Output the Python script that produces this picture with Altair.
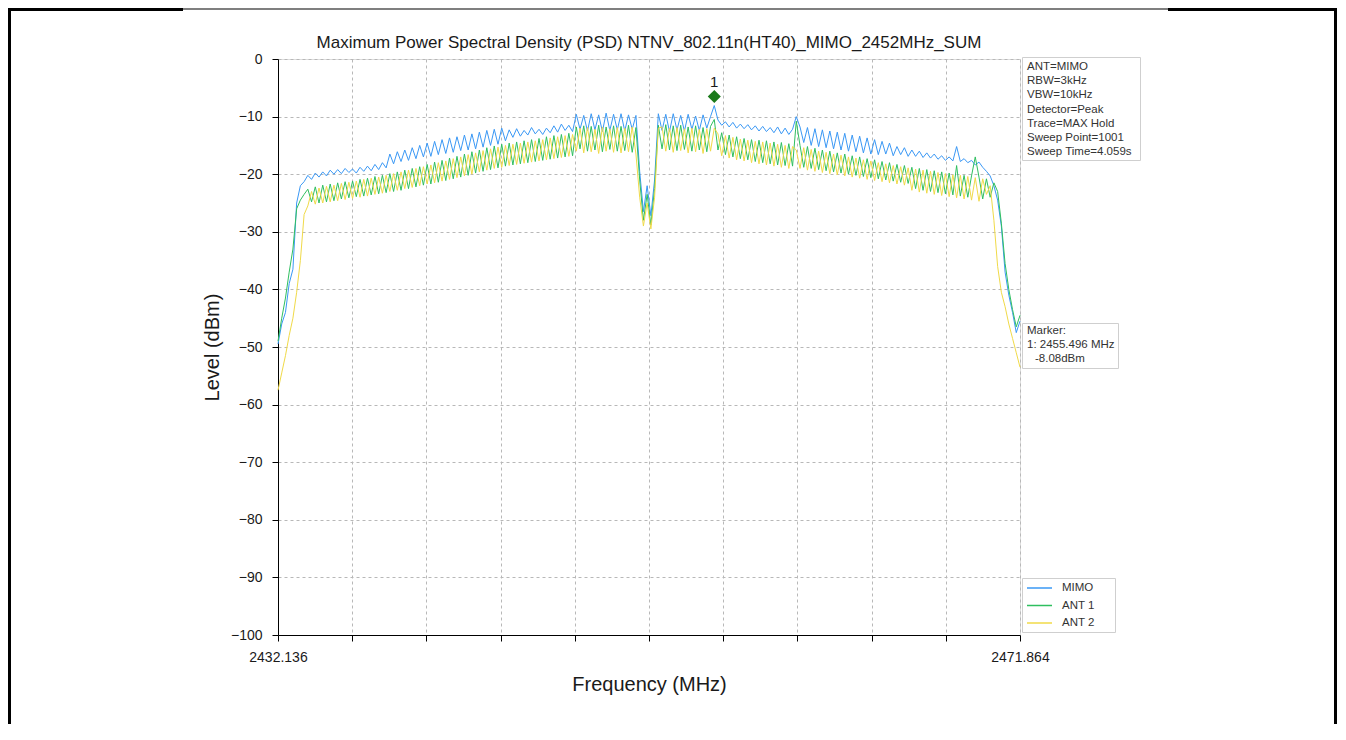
import altair as alt
import pandas as pd

# ---------------- data ----------------
TITLE = "Maximum Power Spectral Density (PSD) NTNV_802.11n(HT40)_MIMO_2452MHz_SUM"
F_START = 2432.136
F_STOP = 2471.864
N_POINTS = 200

series_names = ["MIMO", "ANT 1", "ANT 2"]
series_colors = ["#3a98f5", "#2fbf5f", "#f0da48"]

mimo = [
    -49.5, -46.0, -44.0, -39.0, -36.5, -25.0, -22.0, -21.3, -20.2, -20.9,
    -19.8, -20.5, -19.6, -20.3, -19.3, -20.0, -19.2, -19.9, -19.0, -19.7,
    -19.1, -19.8, -18.8, -19.5, -18.6, -19.4, -18.3, -19.2, -18.0, -18.9,
    -16.5, -18.2, -16.1, -17.8, -15.8, -17.6, -15.4, -17.3, -15.0, -17.0,
    -14.6, -16.9, -14.3, -16.6, -14.0, -16.4, -13.7, -16.2, -13.5, -15.9,
    -13.2, -15.8, -13.0, -15.6, -12.7, -15.3, -12.4, -15.0, -12.2, -14.8,
    -12.0, -14.2, -12.3, -13.6, -12.1, -13.4, -12.4, -13.2, -11.9, -13.0,
    -12.2, -13.1, -12.0, -12.8, -11.6, -12.7, -11.3, -12.4, -11.5, -12.6,
    -9.6, -12.2, -9.8, -12.5, -9.5, -12.3, -9.7, -12.6, -9.4, -12.4,
    -9.6, -12.3, -9.5, -12.5, -9.7, -12.2, -9.8, -19.5, -26.5, -22.0,
    -27.2, -21.0, -9.5, -12.4, -9.6, -12.6, -9.5, -12.3, -9.8, -12.5,
    -9.6, -12.2, -9.9, -12.4, -9.7, -12.0, -10.0, -8.08, -10.6, -11.5,
    -10.9, -11.8, -11.0, -12.0, -11.3, -12.1, -11.4, -12.3, -11.6, -12.5,
    -11.7, -12.6, -11.9, -12.8, -11.8, -13.0, -12.0, -13.1, -12.2, -10.0,
    -11.8, -14.5, -11.9, -15.0, -12.1, -15.2, -12.3, -15.4, -12.5, -15.6,
    -12.7, -15.8, -12.9, -16.0, -13.2, -16.1, -13.4, -16.3, -13.7, -16.5,
    -14.0, -16.6, -14.3, -16.5, -14.6, -16.8, -15.2, -16.6, -15.4, -16.9,
    -15.8, -16.9, -16.0, -17.1, -16.3, -17.2, -16.5, -17.4, -16.8, -17.6,
    -17.0, -17.7, -15.2, -17.8, -17.3, -18.0, -17.6, -18.4, -17.9, -18.8,
    -19.5, -20.3, -22.0, -24.5, -29.0, -37.0, -41.0, -44.0, -47.5, -45.5,
]

ant1 = [
    -49.0, -45.0, -41.5, -37.0, -33.0, -26.0, -24.5, -23.5, -22.6, -24.8,
    -22.2, -25.0, -21.9, -24.8, -21.7, -24.6, -21.5, -24.3, -21.3, -24.1,
    -21.2, -23.9, -20.9, -23.8, -20.7, -23.6, -20.4, -23.4, -20.2, -23.2,
    -19.9, -23.0, -19.6, -22.8, -19.3, -22.5, -19.0, -22.2, -18.7, -21.9,
    -18.3, -21.7, -17.9, -21.4, -17.6, -21.1, -17.2, -20.8, -16.9, -20.5,
    -16.5, -20.2, -16.1, -19.8, -15.8, -19.5, -15.4, -19.2, -15.1, -18.9,
    -14.8, -18.6, -14.6, -18.4, -14.4, -18.2, -14.2, -18.0, -14.0, -17.8,
    -13.8, -17.6, -13.5, -17.4, -13.3, -17.2, -13.1, -17.0, -12.9, -16.8,
    -11.8, -15.6, -11.6, -16.0, -11.7, -15.8, -11.5, -16.1, -11.8, -15.7,
    -11.6, -16.0, -11.7, -15.9, -11.5, -16.2, -11.9, -21.0, -28.0, -23.5,
    -28.8, -22.5, -11.5, -15.6, -11.4, -15.8, -11.6, -15.9, -11.5, -15.7,
    -11.8, -16.0, -11.6, -15.8, -11.9, -16.1, -11.7, -10.5, -15.8, -12.8,
    -16.6, -13.2, -17.0, -13.5, -17.3, -13.8, -17.5, -14.0, -17.8, -14.1,
    -18.0, -14.2, -18.2, -14.4, -18.4, -14.5, -18.5, -14.7, -18.6, -10.8,
    -15.0, -18.8, -15.2, -19.0, -15.5, -19.2, -15.8, -19.4, -16.0, -19.6,
    -16.3, -19.8, -16.5, -20.0, -16.8, -20.2, -17.0, -20.4, -17.3, -20.6,
    -17.5, -20.8, -17.8, -21.0, -18.0, -21.2, -18.3, -21.4, -18.5, -21.6,
    -18.8, -22.5, -19.0, -22.8, -19.2, -23.0, -19.4, -23.2, -19.6, -23.4,
    -19.8, -23.6, -18.5, -23.8, -20.2, -24.0, -20.3, -17.0, -20.5, -24.3,
    -20.8, -24.0, -21.5, -23.0, -28.5, -35.5, -40.0, -43.5, -46.5, -44.5,
]

ant2 = [
    -57.5, -54.5, -51.5, -48.0, -45.0, -40.5, -35.0, -27.0, -25.5, -23.0,
    -25.2, -22.4, -25.0, -22.1, -24.8, -21.9, -24.6, -21.6, -24.4, -21.4,
    -24.2, -21.2, -24.0, -20.9, -23.8, -20.7, -23.5, -20.5, -23.3, -20.2,
    -23.0, -19.9, -22.8, -19.6, -22.5, -19.3, -22.3, -19.0, -22.0, -18.7,
    -21.7, -18.4, -21.5, -18.0, -21.2, -17.7, -20.9, -17.3, -20.6, -17.0,
    -20.3, -16.6, -20.0, -16.3, -19.6, -15.9, -19.3, -15.6, -19.0, -15.3,
    -18.8, -15.0, -18.5, -14.8, -18.3, -14.6, -18.1, -14.4, -17.9, -14.2,
    -17.7, -14.0, -17.5, -13.7, -17.3, -13.5, -17.1, -13.3, -16.9, -13.1,
    -16.0, -12.0, -16.3, -11.9, -16.1, -12.2, -16.4, -11.8, -16.0, -12.1,
    -16.2, -11.9, -16.3, -12.0, -16.1, -11.8, -16.5, -24.0, -29.0, -25.0,
    -29.5, -24.0, -12.0, -11.8, -16.0, -12.0, -16.2, -11.9, -15.9, -12.1,
    -16.3, -12.0, -16.1, -12.2, -16.4, -12.1, -16.0, -12.0, -13.0, -16.8,
    -13.3, -17.2, -13.6, -17.5, -13.9, -17.7, -14.1, -18.0, -14.3, -18.2,
    -14.4, -18.4, -14.6, -18.6, -14.8, -18.8, -15.0, -19.0, -15.2, -15.8,
    -19.0, -15.4, -19.3, -15.7, -19.5, -16.0, -19.7, -16.2, -19.9, -16.5,
    -20.1, -16.7, -20.3, -17.0, -20.5, -17.2, -20.7, -17.5, -20.9, -17.7,
    -21.1, -18.0, -21.3, -18.2, -21.5, -18.5, -21.7, -18.7, -21.9, -18.9,
    -22.8, -19.1, -23.1, -19.3, -23.3, -19.5, -23.5, -19.7, -23.7, -19.9,
    -23.9, -20.1, -24.1, -20.2, -24.3, -20.4, -24.5, -20.6, -24.7, -20.8,
    -23.5, -22.0, -28.0, -36.0, -40.5, -43.0, -46.0, -48.5, -51.0, -53.5,
]

marker_freq = 2455.496
marker_level = -8.08

info_lines = ["ANT=MIMO", "RBW=3kHz", "VBW=10kHz", "Detector=Peak",
              "Trace=MAX Hold", "Sweep Point=1001", "Sweep Time=4.059s"]
y_ticks = list(range(-100, 1, 10))
X_TICK_COUNT = 11

assert len(mimo) == len(ant1) == len(ant2) == N_POINTS

# ---------------- build ----------------
FONT = "Liberation Sans"
W, H = 742, 576
PAD_L, PAD_T, PAD_R, PAD_B = 270, 51, 318, 89
freqs = [F_START + k * (F_STOP - F_START) / (N_POINTS - 1) for k in range(N_POINTS)]
x_ticks = [round(F_START + k * (F_STOP - F_START) / (X_TICK_COUNT - 1), 4) for k in range(X_TICK_COUNT)]

label_expr = (
    f"(abs(datum.value - {F_START}) < 0.001 || abs(datum.value - {F_STOP}) < 0.001)"
    " ? format(datum.value, '.3f') : ''"
)

x_enc = alt.X(
    "freq:Q",
    scale=alt.Scale(domain=[F_START, F_STOP], nice=False, zero=False),
    axis=alt.Axis(
        values=x_ticks, labelExpr=label_expr, labelFlush=False, labelOverlap=False,
        title="Frequency (MHz)", titleX=W / 2, titleY=49, titleBaseline="middle",
        titleFontSize=20, titleFontWeight="normal", titleColor="#1a1a1a",
        labelFontSize=14, labelColor="#1a1a1a", tickSize=6, labelPadding=9,
        grid=True, gridDash=[3, 3], gridColor="#b8b8b8", gridWidth=1,
        domainColor="black", tickColor="black",
    ),
)
y_enc = alt.Y(
    "level:Q",
    scale=alt.Scale(domain=[-100, 0], nice=False, zero=False),
    axis=alt.Axis(
        values=y_ticks, format="d", labelOverlap=False,
        title="Level (dBm)", titleX=-66, titleY=H / 2, titleAlign="center",
        titleBaseline="middle", titleAngle=270,
        titleFontSize=20, titleFontWeight="normal", titleColor="#1a1a1a",
        labelFontSize=14, labelColor="#1a1a1a", tickSize=6, labelPadding=10,
        grid=True, gridDash=[3, 3], gridColor="#b8b8b8", gridWidth=1,
        domainColor="black", tickColor="black",
    ),
)

layers = []
for name, vals, col in zip(series_names, [mimo, ant1, ant2], series_colors):
    df = pd.DataFrame({"freq": freqs, "level": vals, "series": name})
    layers.append(
        alt.Chart(df).mark_line(color=col, strokeWidth=1).encode(x=x_enc, y=y_enc)
    )

mk = pd.DataFrame({"freq": [marker_freq], "level": [marker_level]})
layers.append(
    alt.Chart(mk).mark_point(shape="diamond", filled=True, size=170, color="#1b7a1b",
                             opacity=1, yOffset=-9).encode(x="freq:Q", y="level:Q")
)
layers.append(
    alt.Chart(mk).mark_text(text="1", fontSize=15, font=FONT, color="#1a1a1a",
                            yOffset=-24).encode(x="freq:Q", y="level:Q")
)

one = pd.DataFrame({"k": [0]})


def box(x1, x2, y1, y2):
    return alt.Chart(one).mark_rect(fill="white", stroke="#cfcfcf", strokeWidth=1).encode(
        x=alt.value(x1), x2=alt.value(x2), y=alt.value(y1), y2=alt.value(y2))


def txt(s, x, y, size=11.5, align="left", baseline="top", color="#333333", lh=14.2):
    return alt.Chart(one).mark_text(text=s, fontSize=size, font=FONT, align=align,
                                    baseline=baseline, color=color, lineHeight=lh).encode(
        x=alt.value(x), y=alt.value(y))


def rule(x1, x2, y1, y2, color="black", w=1.0):
    return alt.Chart(one).mark_rule(color=color, strokeWidth=w).encode(
        x=alt.value(x1), x2=alt.value(x2), y=alt.value(y1), y2=alt.value(y2))


# title
layers.append(txt(TITLE, W / 2, -16, size=17, align="center", baseline="middle", color="#1a1a1a"))

# info box
layers.append(box(744.5, 862.5, -1.5, 101.5))
layers.append(txt(info_lines, 749, 2))

# marker box
layers.append(box(744.5, 840.5, 264.5, 309.5))
layers.append(txt(["Marker:", f"1: {marker_freq:.3f} MHz"], 749, 266))
layers.append(txt(f"{marker_level:.2f}dBm", 757, 294.4))

# legend box
layers.append(box(744.5, 837.5, 519.5, 573.5))
for k, (name, col) in enumerate(zip(series_names, series_colors)):
    yy = 529 + k * 17.5
    layers.append(rule(749, 774, yy, yy, color=col, w=1.5))
    layers.append(txt(name, 784, yy, baseline="middle"))

# page frame
RIGHT_EDGE = W + PAD_R - 2.5
layers.append(rule(-268.5, -268.5, -49.5, 700, w=3))
layers.append(rule(RIGHT_EDGE, RIGHT_EDGE, -49.5, 700, w=3))
layers.append(rule(-270, -95, -49.5, -49.5, w=3))
layers.append(rule(890, RIGHT_EDGE + 1.5, -49.5, -49.5, w=3))
layers.append(rule(-95, 890, -50, -50, w=1.2))

chart = alt.layer(*layers).properties(
    width=W, height=H,
    autosize=alt.AutoSizeParams(type="none"),
    padding={"left": PAD_L, "top": PAD_T, "right": PAD_R, "bottom": PAD_B},
).configure_view(stroke="black", strokeWidth=1).configure(font=FONT)

chart.save("out.html", embed_options={"renderer": "svg", "actions": False})
